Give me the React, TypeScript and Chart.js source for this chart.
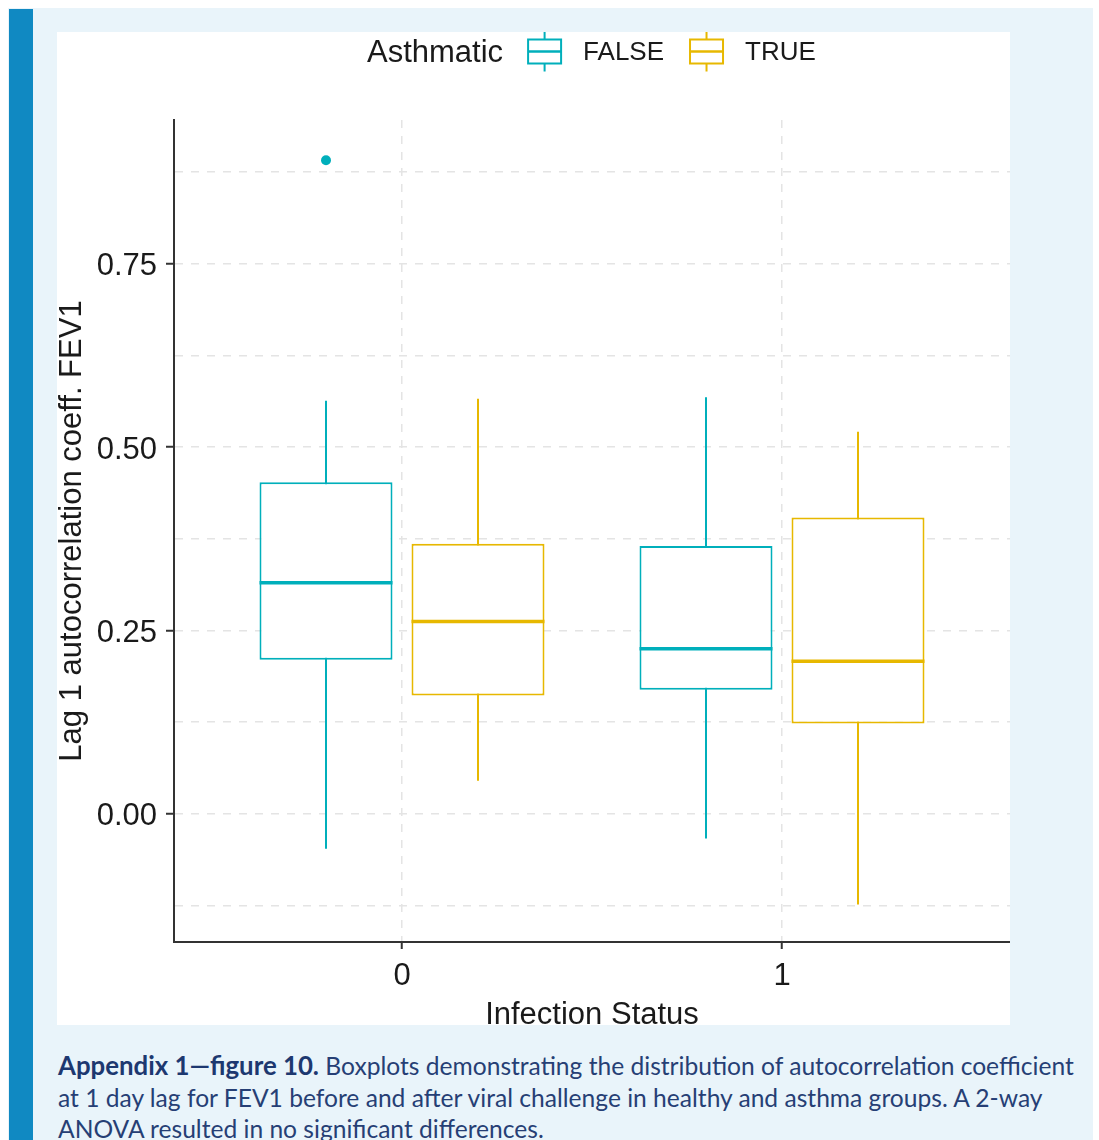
import React, { useEffect, useRef } from 'react';
import { Chart, registerables } from 'chart.js';

Chart.register(...registerables);

// ---------- data ----------
const categories = ['0', '1'];
const categoryPositions = [1, 2];
const groupLabels = ['FALSE', 'TRUE'];
const groupColors = ['#00AFBB', '#E7B800'];
const dodgeOffsets = [-0.2, 0.2];

// [lower whisker, Q1, median, Q3, upper whisker] for Infection Status 0 and 1
const falseStats = [
  [-0.048, 0.210, 0.315, 0.452, 0.563],
  [-0.034, 0.169, 0.225, 0.365, 0.568],
];
const trueStats = [
  [0.045, 0.161, 0.262, 0.368, 0.566],
  [-0.124, 0.123, 0.208, 0.404, 0.521],
];
const falseOutliers = [[0.891], []];
const trueOutliers = [[], []];

const yMajorTicks = [0, 0.25, 0.5, 0.75];
const yMinorTicks = [-0.125, 0.125, 0.375, 0.625, 0.875];

// ---------- style ----------
const FONT = '"Liberation Sans", Arial, Helvetica, sans-serif';
const BOX_WIDTH = 0.35;
const HALF_BOX = BOX_WIDTH / 2;
const GRID = '#e4e4e4';
const AXIS = '#333333';
const TEXT = '#1a1a1a';

const groups = [
  { label: groupLabels[0], color: groupColors[0], offset: dodgeOffsets[0], stats: falseStats, outliers: falseOutliers },
  { label: groupLabels[1], color: groupColors[1], offset: dodgeOffsets[1], stats: trueStats, outliers: trueOutliers },
];

const legendPlugin = {
  id: 'boxLegend',
  afterDraw(chart: any, _args: any, opts: any) {
    const ctx = chart.ctx as CanvasRenderingContext2D;
    ctx.save();
    const yMid = opts.y;
    let x = opts.x;
    ctx.textBaseline = 'middle';
    ctx.textAlign = 'left';
    ctx.fillStyle = TEXT;
    ctx.font = `31px ${FONT}`;
    ctx.fillText(opts.title, x, yMid + 1.5);
    x += ctx.measureText(opts.title).width + 24;
    for (const item of opts.items) {
      const w = 35;
      ctx.strokeStyle = item.color;
      ctx.lineWidth = 2;
      ctx.beginPath();
      ctx.moveTo(x + w / 2, yMid - 20);
      ctx.lineTo(x + w / 2, yMid - 12);
      ctx.moveTo(x + w / 2, yMid + 12);
      ctx.lineTo(x + w / 2, yMid + 20);
      ctx.stroke();
      ctx.strokeRect(x + 1, yMid - 12, w - 2, 24);
      ctx.lineWidth = 2.5;
      ctx.beginPath();
      ctx.moveTo(x + 1, yMid);
      ctx.lineTo(x + w - 1, yMid);
      ctx.stroke();
      x += w + 21;
      ctx.fillStyle = TEXT;
      ctx.font = `26px ${FONT}`;
      ctx.fillText(item.label, x, yMid + 1.5);
      x += ctx.measureText(item.label).width + 25;
    }
    ctx.restore();
  },
};

function buildDatasets() {
  const ds: any[] = [];
  groups.forEach((g) => {
    const xs = categoryPositions.map((p) => p + g.offset);
    ds.push({
      type: 'line',
      label: g.label + ' median',
      data: xs.flatMap((x, i) => [
        { x: x - HALF_BOX, y: g.stats[i][2] },
        { x: x + HALF_BOX, y: g.stats[i][2] },
        { x: x + HALF_BOX, y: null },
      ]),
      borderColor: g.color,
      borderWidth: 3.5,
      pointRadius: 0,
      spanGaps: false,
      order: 0,
    });
    ds.push({
      type: 'scatter',
      label: g.label + ' outliers',
      data: xs.flatMap((x, i) => g.outliers[i].map((v) => ({ x, y: v }))),
      backgroundColor: g.color,
      borderColor: g.color,
      pointRadius: 5,
      borderWidth: 0,
      order: 0,
    });
    ds.push({
      type: 'bar',
      label: g.label + ' box',
      data: xs.map((x, i) => ({ x, y: [g.stats[i][1], g.stats[i][3]] })),
      backgroundColor: '#ffffff',
      borderColor: g.color,
      borderWidth: 2,
      borderSkipped: false,
      grouped: false,
      categoryPercentage: BOX_WIDTH / 0.4,
      barPercentage: 1,
      order: 1,
    });
    ds.push({
      type: 'line',
      label: g.label + ' whiskers',
      data: xs.flatMap((x, i) => [
        { x, y: g.stats[i][0] },
        { x, y: g.stats[i][4] },
        { x, y: null },
      ]),
      borderColor: g.color,
      borderWidth: 2,
      pointRadius: 0,
      spanGaps: false,
      order: 2,
    });
  });
  return ds;
}

export default function App() {
  const ref = useRef<HTMLCanvasElement | null>(null);

  useEffect(() => {
    if (!ref.current) return;
    const chart = new Chart(ref.current, {
      type: 'bar',
      data: { datasets: buildDatasets() },
      plugins: [legendPlugin],
      options: {
        responsive: false,
        animation: false,
        devicePixelRatio: 1,
        events: [],
        layout: { autoPadding: false, padding: { top: 88, left: 0, right: 0, bottom: 0 } },
        plugins: {
          legend: { display: false },
          tooltip: { enabled: false },
          boxLegend: {
            x: 310,
            y: 19.5,
            title: 'Asthmatic',
            items: groups.map((g) => ({ label: g.label, color: g.color })),
          },
        } as any,
        scales: {
          x: {
            type: 'linear',
            min: 0.4,
            max: 2.6,
            offset: false,
            afterBuildTicks: (s: any) => {
              s.ticks = categoryPositions.map((v) => ({ value: v }));
            },
            afterFit: (s: any) => {
              s.height = 83;
              s.paddingLeft = 0;
              s.paddingRight = 0;
            },
            ticks: {
              autoSkip: false,
              maxRotation: 0,
              padding: 9,
              color: TEXT,
              font: { family: FONT, size: 31 },
              callback: (v: any) => {
                const i = categoryPositions.indexOf(Number(v));
                return i >= 0 ? categories[i] : '';
              },
            },
            grid: {
              offset: false,
              color: GRID,
              lineWidth: 1.5,
              tickLength: 7,
              tickWidth: 2,
              tickColor: AXIS,
            },
            border: { display: true, color: AXIS, width: 2, dash: [8, 8] },
            title: {
              display: true,
              text: 'Infection Status',
              color: TEXT,
              font: { family: FONT, size: 31, lineHeight: 1 },
              padding: { top: 0, bottom: -6 },
            },
          } as any,
          y: {
            type: 'linear',
            min: -0.175,
            max: 0.946,
            afterBuildTicks: (s: any) => {
              s.ticks = [...yMinorTicks, ...yMajorTicks].sort((a, b) => a - b).map((v) => ({ value: v }));
            },
            afterFit: (s: any) => {
              s.width = 117;
              s.paddingTop = 0;
              s.paddingBottom = 0;
            },
            ticks: {
              autoSkip: false,
              padding: 9,
              labelOffset: 3,
              color: TEXT,
              font: { family: FONT, size: 31 },
              callback: (v: any) => (yMajorTicks.includes(Number(v)) ? Number(v).toFixed(2) : ''),
            },
            grid: {
              color: GRID,
              lineWidth: 1.5,
              tickLength: 8,
              tickWidth: 2,
              tickColor: (c: any) => (c.tick && yMajorTicks.includes(c.tick.value) ? AXIS : 'rgba(0,0,0,0)'),
            },
            border: { display: true, color: AXIS, width: 2, dash: [8, 8] },
            title: {
              display: true,
              text: 'Lag 1 autocorrelation coeff. FEV1',
              color: TEXT,
              font: { family: FONT, size: 31, lineHeight: 1 },
              padding: 0,
            },
          } as any,
        },
      },
    });
    return () => chart.destroy();
  }, []);

  return (
    <div style={{ position: 'fixed', left: 0, top: 0, width: 1099, height: 1140, overflow: 'hidden', background: '#ffffff' }}>
      <div style={{ position: 'absolute', left: 8, top: 8, width: 1085, height: 1140, background: '#e9f4fa' }} />
      <div style={{ position: 'absolute', left: 9, top: 9, width: 24, height: 1140, background: '#1089c2' }} />
      <div style={{ position: 'absolute', left: 57, top: 32, width: 953, height: 993, background: '#ffffff' }}>
        <canvas ref={ref} width={953} height={993} style={{ display: 'block', width: 953, height: 993 }} />
      </div>
      <div
        style={{
          position: 'absolute',
          left: 58,
          top: 1050,
          width: 1040,
          fontFamily: 'Lato, "Noto Sans", sans-serif',
          fontSize: 24.6,
          lineHeight: '31.5px',
          color: '#263f75',
          whiteSpace: 'nowrap',
        }}
      >
        <span style={{ fontWeight: 700, fontSize: 25.8, color: '#1d3870' }}>Appendix 1—figure 10.</span> Boxplots demonstrating the distribution of autocorrelation coefficient
        <br />
        at 1 day lag for FEV1 before and after viral challenge in healthy and asthma groups. A 2-way
        <br />
        ANOVA resulted in no significant differences.
      </div>
    </div>
  );
}
